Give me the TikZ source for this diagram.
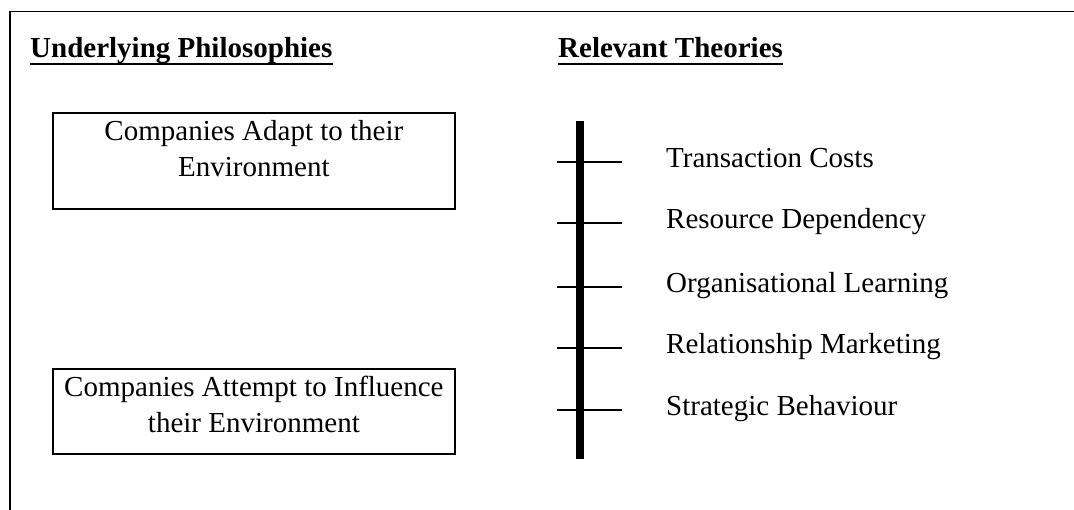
\documentclass[tikz,border=0pt]{standalone}
\usepackage{fontspec}
\setmainfont{Liberation Serif}
\usetikzlibrary{calc}
\begin{document}
\begin{tikzpicture}[x=1pt,y=-1pt,
  txt/.style={font=\fontsize{29}{36}\selectfont, inner sep=0pt},
  heading/.style={font=\fontsize{29}{36}\selectfont\bfseries, inner sep=0pt, anchor=base west},
  philobox/.style={draw, line width=1.8pt, minimum width=402pt, anchor=north west, inner sep=0pt},
  tickline/.style={line width=1.8pt},
  frameline/.style={line width=1.6pt}
]
\useasboundingbox (0,0) rectangle (1074,510);
% frame
\coordinate (fbl) at (10,510);
\coordinate (ftl) at (10,11.5);
\coordinate (ftr) at (1074,11.5);
\draw[frameline] (fbl) -- (ftl) -- (ftr);

% headings
\node[heading] (h1) at (30,58) {Underlying Philosophies};
\node[heading] (h2) at (558,58) {Relevant Theories};
\draw[line width=2pt] ($(h1.base west)+(0,6)$) -- ($(h1.base east)+(0,6)$);
\draw[line width=2pt] ($(h2.base west)+(0,6)$) -- ($(h2.base east)+(0,6)$);

% boxes
\node[philobox, minimum height=96pt] (b1) at (52,112) {};
\node[txt, align=center, anchor=north] (b1t) at ($(b1.north)+(0,8.5)$) {Companies Adapt to their\\Environment};
\node[philobox, minimum height=85pt] (b2) at (52,368) {};
\node[txt, align=center, anchor=north] (b2t) at ($(b2.north)+(0,7.5)$) {Companies Attempt to Influence\\their Environment};

% theory bar
\coordinate (bartop) at (580,121);
\coordinate (barbot) at (580,459);
\draw[line width=8pt] (bartop) -- (barbot);

\foreach \y/\lab [count=\i] in {162/Transaction Costs, 223/Resource Dependency, 287/Organisational Learning, 348/Relationship Marketing, 410/Strategic Behaviour}{
  \coordinate (tl\i) at (557,\y);
  \coordinate (tr\i) at (622,\y);
  \draw[tickline] (tl\i) -- (tr\i);
  \node[txt, anchor=base west] (lab\i) at (666,\y+6) {\lab};
}
\end{tikzpicture}
\end{document}
